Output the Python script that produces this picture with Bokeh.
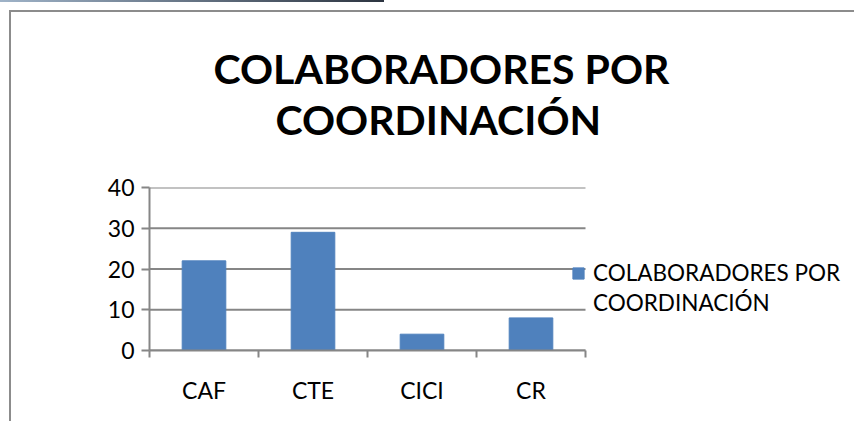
from bokeh.plotting import figure
from bokeh.models import (Range1d, LinearAxis, FixedTicker, Title,
                          Legend, LegendItem, ColumnDataSource)
from bokeh.embed import file_html
from bokeh.resources import INLINE

categories = ["CAF", "CTE", "CICI", "CR"]
values = [22, 29, 4, 8]
y_ticks = [0, 10, 20, 30, 40]
title_lines = ["COLABORADORES POR", "COORDINACIÓN"]
series_lines = ["COLABORADORES POR", "COORDINACIÓN"]

GRAY = "#868686"
BLUE = "#4F81BD"
FONT = "Lato"

n = len(categories)
centers = [i + 0.5 for i in range(n)]
source = ColumnDataSource(dict(x=centers, top=values, cat=categories))

# frame spans from the value axis to the right edge; categories occupy its left 436 px
FRAME_W = 854 - 149
CAT_W = 436
p = figure(x_range=Range1d(0, n * FRAME_W / CAT_W), y_range=Range1d(0, 40),
           width=854, height=421, output_backend="svg", toolbar_location=None,
           x_axis_location=None, title=None,
           min_border_left=149, min_border_right=0, min_border_top=187, min_border_bottom=71)
p.outline_line_color = None
p.background_fill_alpha = 0
p.border_fill_alpha = 0
p.styles = {
    "background": ("linear-gradient(to right, #9fb3c8, #2c3440) 0px 0px / 384px 2px no-repeat, "
                   "linear-gradient(#8c8c8c, #8c8c8c) 9px 10px / 2px 100% no-repeat, "
                   "linear-gradient(#8c8c8c, #8c8c8c) 9px 10px / 100% 2px no-repeat, white"),
}

# horizontal gridlines limited to the category area
p.xgrid.grid_line_color = None
p.ygrid.grid_line_color = None
p.segment(x0=[0] * len(y_ticks), x1=[n] * len(y_ticks), y0=y_ticks, y1=y_ticks,
          line_color=GRAY, line_width=2)

r = p.vbar(x="x", top="top", width=0.4, source=source, fill_color=BLUE, line_color=BLUE)
dummy = p.vbar(x=[], top=[], width=0.4, fill_alpha=0, line_alpha=0)

# y axis
p.yaxis.ticker = FixedTicker(ticks=y_ticks)
p.yaxis.minor_tick_line_color = None
p.yaxis.major_tick_in = 0
p.yaxis.major_tick_out = 8
p.yaxis.major_tick_line_color = GRAY
p.yaxis.major_tick_line_width = 2
p.yaxis.axis_line_color = GRAY
p.yaxis.axis_line_width = 2
p.yaxis.major_label_text_font = FONT
p.yaxis.major_label_text_font_size = "23px"
p.yaxis.major_label_text_color = "black"
p.yaxis.major_label_standoff = 7

# x axis: labels at category centres, tick marks (minor) at boundaries
x_axis = LinearAxis(ticker=FixedTicker(ticks=centers, minor_ticks=list(range(n + 1))),
                    bounds=(0, n),
                    major_label_overrides={c: name for c, name in zip(centers, categories)},
                    axis_line_color=GRAY, axis_line_width=2,
                    major_tick_line_color=None, major_tick_in=0, major_tick_out=0,
                    minor_tick_line_color=GRAY, minor_tick_line_width=2,
                    minor_tick_in=0, minor_tick_out=7,
                    major_label_text_font=FONT, major_label_text_font_size="23px",
                    major_label_text_color="black", major_label_standoff=18)
p.add_layout(x_axis, "below")

# title: spacer nearest the frame, then the two lines
p.add_layout(Title(text=" ", standoff=30, text_font=FONT, text_font_size="10px"), "above")
p.add_layout(Title(text=title_lines[1], align="left", offset=126, standoff=0,
                   text_font=FONT, text_font_style="bold", text_font_size="41px",
                   text_color="black"), "above")
p.add_layout(Title(text=title_lines[0], align="left", offset=64, standoff=0,
                   text_font=FONT, text_font_style="bold", text_font_size="41px",
                   text_color="black"), "above")

legend = Legend(items=[LegendItem(label=series_lines[0], renderers=[r]),
                       LegendItem(label=series_lines[1], renderers=[dummy])],
                location=(422, 34), padding=0, margin=0, spacing=3,
                glyph_width=14, glyph_height=14, label_standoff=8,
                label_text_font=FONT, label_text_font_size="22.5px",
                label_text_color="black",
                border_line_alpha=0, background_fill_alpha=0)
p.add_layout(legend, "center")

open("out.html", "w").write(file_html(p, INLINE))
